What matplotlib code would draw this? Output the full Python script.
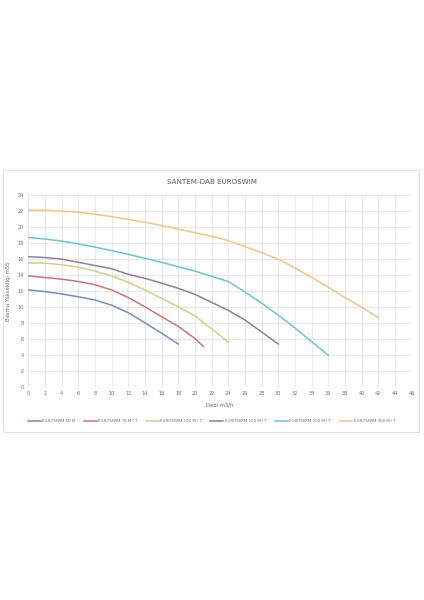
import matplotlib.pyplot as plt
from matplotlib.patches import Rectangle

# Debi (m3/h) ve basma yüksekliği (mSS) değerleri
debi_50 = [0, 2, 4, 6, 8, 10, 12, 14, 16, 18]
h_50 = [12.15, 11.95, 11.65, 11.3, 10.9, 10.25, 9.3, 8.05, 6.75, 5.4]

debi_75 = [0, 2, 4, 6, 8, 10, 12, 14, 16, 18, 20, 21]
h_75 = [13.9, 13.7, 13.5, 13.2, 12.8, 12.15, 11.2, 10.05, 8.8, 7.6, 6.1, 5.1]

debi_100 = [0, 2, 4, 6, 8, 10, 12, 14, 16, 18, 20, 22, 24]
h_100 = [15.5, 15.5, 15.3, 15.0, 14.5, 13.9, 13.1, 12.15, 11.1, 10.05, 8.9, 7.3, 5.65]

debi_150 = [0, 2, 4, 6, 8, 10, 12, 14, 16, 18, 20, 22, 24, 26, 28, 30]
h_150 = [16.3, 16.2, 16.0, 15.6, 15.2, 14.8, 14.1, 13.6, 13.0, 12.35, 11.6, 10.6, 9.6, 8.4, 6.9, 5.4]

debi_200 = [0, 2, 4, 6, 8, 10, 12, 14, 16, 18, 20, 22, 24, 26, 28, 30, 32, 34, 36]
h_200 = [18.7, 18.5, 18.25, 17.9, 17.5, 17.05, 16.6, 16.1, 15.6, 15.05, 14.5, 13.85, 13.2, 11.9, 10.5, 9.0, 7.4, 5.7, 4.0]

debi_300 = [0, 2, 4, 6, 8, 10, 12, 14, 16, 18, 20, 22, 24, 26, 28, 30, 32, 34, 36, 38, 40, 42]
h_300 = [22.1, 22.1, 22.0, 21.85, 21.6, 21.3, 20.95, 20.6, 20.2, 19.75, 19.3, 18.85, 18.3, 17.55, 16.8, 16.0, 14.9, 13.7, 12.5, 11.2, 10.0, 8.7]

seriler = [
    ('EUROSWIM 50 M', debi_50, h_50, '#7390b5'),
    ('EUROSWIM 75 M / T', debi_75, h_75, '#c4767c'),
    ('EUROSWIM 100 M / T', debi_100, h_100, '#cfd08a'),
    ('EUROSWIM 150 M / T', debi_150, h_150, '#8c8198'),
    ('EUROSWIM 200 M / T', debi_200, h_200, '#72c2cc'),
    ('EUROSWIM 300 M / T', debi_300, h_300, '#eec58f'),
]

x_ticks = list(range(0, 47, 2))
y_ticks = list(range(0, 25, 2))

gri = '#6e6e6e'

fig = plt.figure(figsize=(4.24, 6.0), dpi=100)
fig.patches.append(Rectangle((3 / 424, 1 - 432 / 600), 416 / 424, 262 / 600,
                             transform=fig.transFigure, fill=False,
                             edgecolor='#e2e2e2', linewidth=0.8))

ax = fig.add_axes([28.3 / 424, 1 - 387.3 / 600, 383.3 / 424, 192.3 / 600])

for isim, x, y, renk in seriler:
    ax.plot(x, y, color=renk, linewidth=1.1, label=isim)

ax.set_xlim(0, 46)
ax.set_ylim(0, 24)
ax.set_xticks(x_ticks)
ax.set_yticks(y_ticks)
ax.tick_params(labelsize=3.6, colors=gri, length=0, pad=3)
ax.grid(True, color='#e4e4e4', linewidth=0.6)
ax.set_axisbelow(True)
for s in ax.spines.values():
    s.set_visible(False)
ax.axhline(0, color='#d0d0d0', linewidth=0.6)

ax.set_xlabel('Debi m3/h', fontsize=3.8, color=gri, labelpad=4)
ax.set_ylabel('Basma Yüksekliği mSS', fontsize=3.8, color=gri, labelpad=5)

fig.text(0.5, 1 - 182 / 600, 'SANTEM-DAB EUROSWIM', ha='center', va='center',
         fontsize=5.1, color='#595959')

fig.legend(loc='center', bbox_to_anchor=(0.5, 1 - 421 / 600), ncol=6,
           fontsize=2.9, frameon=False, handlelength=3.2, columnspacing=2.0,
           handletextpad=0.4, labelcolor=gri)

fig.savefig('out.png', dpi=100)
